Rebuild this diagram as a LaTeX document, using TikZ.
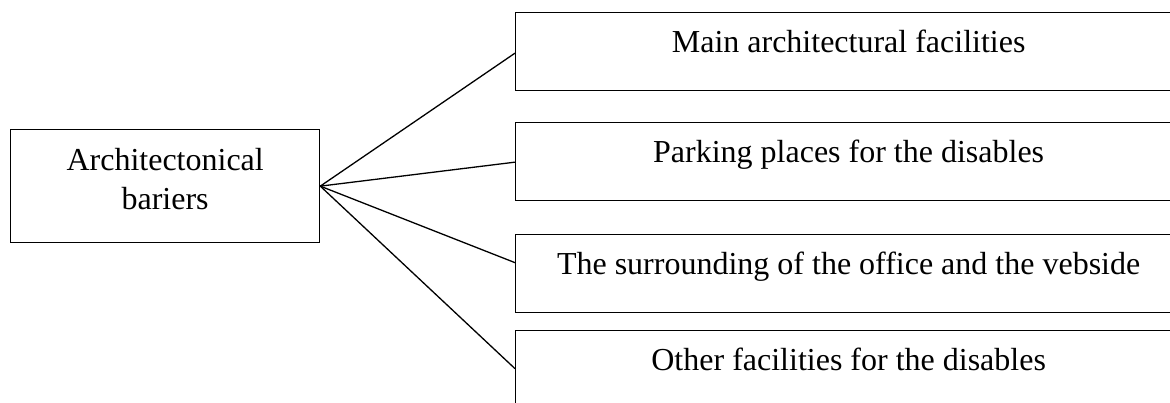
\documentclass[tikz,border=0pt]{standalone}
\usepackage{fontspec}
\setmainfont{Liberation Serif}
\tikzset{
  box/.style={draw, line width=1.3pt, rectangle, inner sep=0pt, anchor=north west,
    minimum width=666pt, text height=39.5pt, text depth=38.5pt,
    font=\fontsize{32}{39}\selectfont},
  mainbox/.style={draw, line width=1.3pt, rectangle, inner sep=0pt, anchor=north west,
    minimum width=309pt, text height=79.5pt, text depth=33.5pt, align=center,
    font=\fontsize{32}{39}\selectfont},
  link/.style={line width=1.3pt}
}
\begin{document}
\begin{tikzpicture}[x=1pt,y=-1pt]
\useasboundingbox (0,0) rectangle (1170,403);
\clip (0,0) rectangle (1170,403);
\fill[white] (0,0) rectangle (1170,403);
\node[mainbox] (a) at (10,129) {Architectonical\\bariers};
\node[box] (b1) at (515,12) {Main architectural facilities};
\node[box] (b2) at (515,122) {Parking places for the disables};
\node[box] (b3) at (515,234) {The surrounding of the office and the vebside};
\node[box] (b4) at (515,330) {Other facilities for the disables};
\draw[link] (a.east) -- ([yshift=-1.5pt]b1.west);
\draw[link] (a.east) -- ([yshift=-0.5pt]b2.west);
\draw[link] (a.east) -- ([yshift=11pt]b3.west);
\draw[link] (a.east) -- ([yshift=1pt]b4.west);
\end{tikzpicture}
\end{document}
